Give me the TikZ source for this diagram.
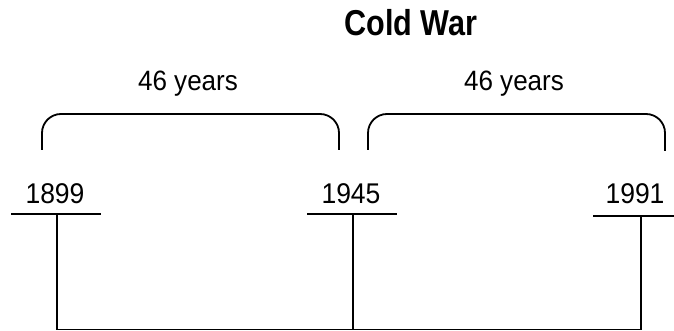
\documentclass[tikz,border=0pt]{standalone}
\usepackage{fontspec}
\newfontfamily\labelfont{Liberation Sans}[FakeStretch=0.93]
\newfontfamily\titlefont{Liberation Sans}[FakeStretch=0.85]

\begin{document}
\begin{tikzpicture}[x=1pt,y=-1pt,line width=1.8pt,
  yearlabel/.style={anchor=base,inner sep=0pt,font=\labelfont\fontsize{28.5}{30}\selectfont},
  gaplabel/.style={anchor=base,inner sep=0pt,font=\labelfont\fontsize{28}{30}\selectfont},
  titlelabel/.style={anchor=base,inner sep=0pt,font=\titlefont\bfseries\fontsize{36}{38}\selectfont},
  span/.style={rounded corners=19pt}]

  \useasboundingbox (0,0) rectangle (674,331);

%%%%%%%%%%%%%%%%%%%%%%%%%%%%%%%%%%%%%%%%%%
  % Title and spans
  \node[titlelabel] (coldwar) at (411,36) {Cold War};

  \node[gaplabel] (gapA) at (188,91) {46 years};
  \node[gaplabel] (gapB) at (514,91) {46 years};

  \draw[span] (42,150) -- (42,114) -- (339,114) -- (339,150);
  \draw[span] (368,150) -- (368,114) -- (665,114) -- (665,151);

%%%%%%%%%%%%%%%%%%%%%%%%%%%%%%%%%%%%%%%%%%
  % Years
  \node[yearlabel] (y1899) at (55,204) {1899};
  \node[yearlabel] (y1945) at (351,204) {1945};
  \node[yearlabel] (y1991) at (635,204) {1991};

  % Ticks
  \coordinate (t1899) at (57,214);
  \coordinate (t1945) at (353,214);
  \coordinate (t1991) at (641,216);
  \coordinate (b1899) at (57,329.5);
  \coordinate (b1945) at (353,329.5);
  \coordinate (b1991) at (641,329.5);

  \draw ([xshift=-46pt]t1899) -- ([xshift=44pt]t1899);
  \draw ([xshift=-46pt]t1945) -- ([xshift=44pt]t1945);
  \draw ([xshift=-48pt]t1991) -- ([xshift=33pt]t1991);

  % Joining line
  \draw (t1899) -- (b1899) -- (b1991) -- (t1991);
  \draw (t1945) -- (b1945);

\end{tikzpicture}
\end{document}
